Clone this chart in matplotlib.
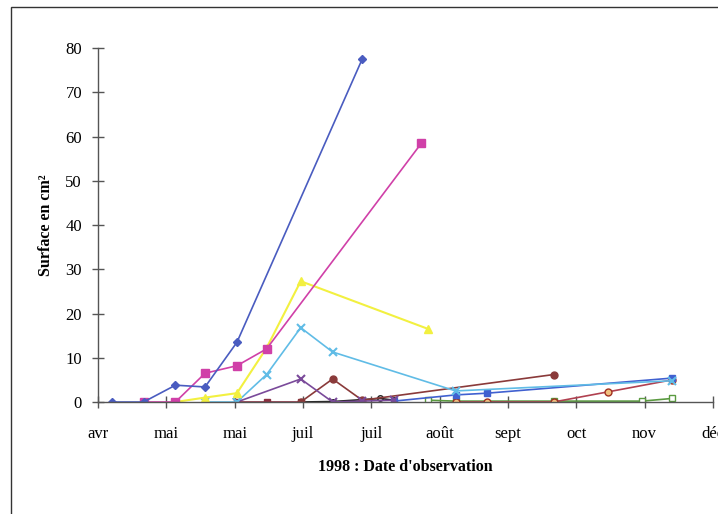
import matplotlib.pyplot as plt
from matplotlib.patches import Rectangle

plt.rcParams['font.family'] = ['Liberation Serif', 'DejaVu Serif']

# x = days counted from 1 April 1998 (one tick every 30 days)
tick_days = [0, 30, 60, 90, 120, 150, 180, 210, 240, 270]
tick_labels = ["avr", "mai", "mai", "juil", "juil", "août", "sept", "oct", "nov", "déc"]
y_ticks = [0, 10, 20, 30, 40, 50, 60, 70, 80]

days_navy = [6, 20, 34, 47, 61, 116]
surf_navy = [0, 0, 3.8, 3.4, 13.5, 77.5]

days_magenta = [20, 34, 47, 61, 74, 142]
surf_magenta = [0, 0, 6.5, 8.2, 12.0, 58.5]

days_yellow = [34, 47, 61, 74, 89, 145]
surf_yellow = [0, 1.0, 2.0, 12.2, 27.3, 16.5]

days_cyan = [47, 61, 74, 89, 103, 157, 252]
surf_cyan = [0, 0, 6.2, 16.8, 11.3, 2.5, 4.8]

days_purple = [61, 89, 103, 116, 130]
surf_purple = [0, 5.2, 0, 0.2, 0.4]

days_maroon_sq = [61, 74, 89]
surf_maroon_sq = [0, 0, 0]

days_maroon = [89, 103, 116, 200]
surf_maroon = [0, 5.2, 0.4, 6.2]

days_black = [89, 103, 124, 130]
surf_black = [0, 0.1, 0.8, 0.4]

days_blue = [130, 157, 171, 252]
surf_blue = [0.2, 1.6, 2.0, 5.4]

days_green = [145, 157, 200, 239, 252]
surf_green = [0.4, 0.2, 0.2, 0.2, 0.8]

days_red = [157, 171, 200, 224, 252]
surf_red = [0, 0, 0, 2.3, 5.0]

fig = plt.figure(figsize=(7.18, 5.14), dpi=100)
ax = fig.add_axes([0.1365, 0.2179, 0.8565, 0.6887])

# chart frame (only left and top edges visible in the scan)
fig.patches.append(Rectangle((11 / 718, -0.1), 1.2, 1.1 - 7 / 514, transform=fig.transFigure,
                             fill=False, edgecolor="#333333", linewidth=1.0))

ax.plot(days_maroon_sq, surf_maroon_sq, color="#8a3040", marker="s", ms=5, lw=1.2)
ax.plot(days_black, surf_black, color="#222222", marker="o", ms=4, mfc="none", lw=1.2)
ax.plot(days_green, surf_green, color="#5a9a40", marker="s", ms=5, mfc="white", lw=1.2)
ax.plot(days_red, surf_red, color="#b04050", marker="o", ms=5, mfc="#f0c080", mec="#a03020", lw=1.2)
ax.plot(days_blue, surf_blue, color="#4060d0", marker="s", ms=4, lw=1.2)
ax.plot(days_maroon, surf_maroon, color="#8a3a3a", marker="o", ms=5, lw=1.2)
ax.plot(days_purple, surf_purple, color="#7a4a9a", marker="x", ms=6, mew=1.5, lw=1.2)
ax.plot(days_cyan, surf_cyan, color="#60bce6", marker="x", ms=6, mew=1.5, lw=1.2)
ax.plot(days_yellow, surf_yellow, color="#f2f040", marker="^", ms=6, lw=1.5)
ax.plot(days_magenta, surf_magenta, color="#d040a8", marker="s", ms=5.5, lw=1.2)
ax.plot(days_navy, surf_navy, color="#4a5cc0", marker="D", ms=4.5, lw=1.2)

ax.set_xlim(0, 270)
ax.set_ylim(0, 80)
ax.set_xticks(tick_days)
ax.set_xticklabels(tick_labels)
ax.set_yticks(y_ticks)

for s in ["top", "right"]:
    ax.spines[s].set_visible(False)
for s in ["left", "bottom"]:
    ax.spines[s].set_color("#555555")
    ax.spines[s].set_linewidth(1.0)
ax.tick_params(direction="inout", length=9, width=1, color="#555555", labelsize=12)
ax.tick_params(axis="x", pad=13)
ax.tick_params(axis="y", pad=7)

ax.set_ylabel("Surface en cm²", fontsize=11.5, fontweight="bold", labelpad=8)
ax.set_xlabel("1998 : Date d'observation", fontsize=11.5, fontweight="bold", labelpad=12)

fig.savefig("out.png", dpi=100)
